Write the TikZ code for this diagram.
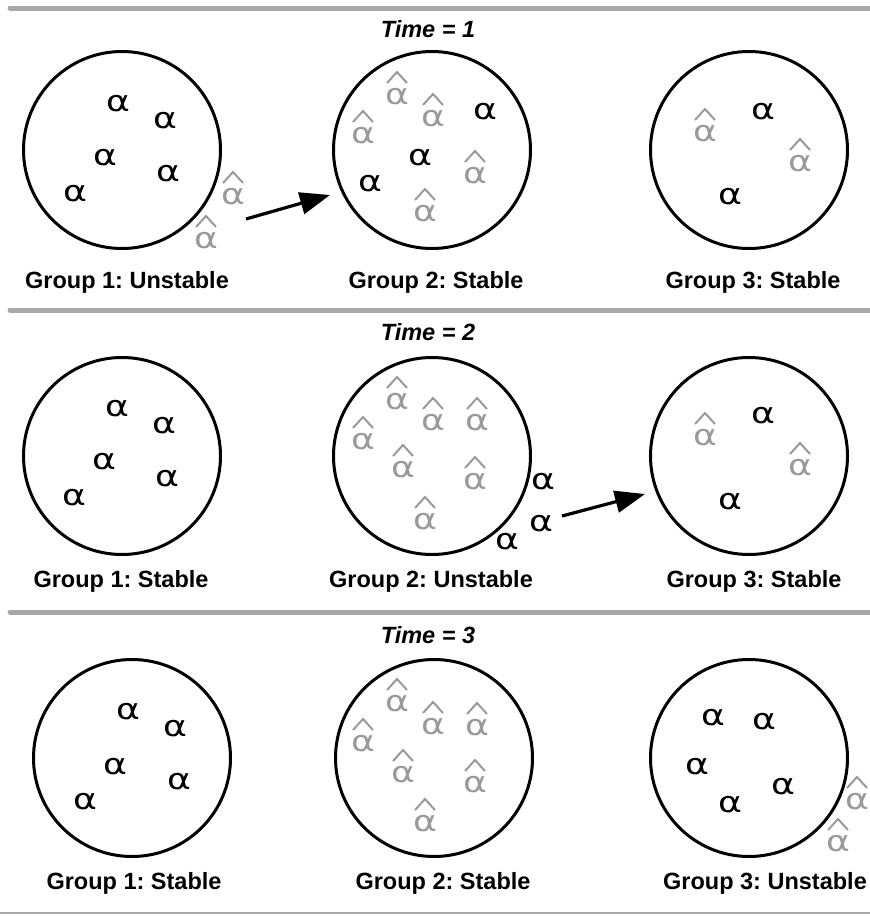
\documentclass[tikz,border=0pt]{standalone}
\usepackage{fontspec}
\setmainfont{Liberation Sans}
\newfontfamily\alffont{DejaVu Sans}
\usetikzlibrary{arrows.meta,calc}
\definecolor{hatgray}{HTML}{9A9A9A}
\definecolor{rulegray}{HTML}{A8A8A8}
\newcommand{\myalpha}{\scalebox{1.25}[1]{α}}
\frenchspacing
\begin{document}
\begin{tikzpicture}[x=1pt,y=-1pt,
  grp/.style={circle,draw=black,line width=3pt,minimum size=197pt,inner sep=0pt},
  alf/.style={inner sep=0pt,font=\alffont\fontsize{29}{29}\selectfont},
  galf/.style={alf,text=hatgray},
  hatline/.style={draw=hatgray,line width=2pt},
  lbl/.style={anchor=base,inner sep=0pt,font=\fontsize{23.5}{27}\selectfont\bfseries},
  tlbl/.style={anchor=base,inner sep=0pt,font=\fontsize{23.5}{27}\selectfont\bfseries\itshape},
  rulestyle/.style={draw=rulegray,line width=5pt,line cap=round},
  mover/.style={line width=3.2pt,-{Triangle[length=30pt,width=22pt]}},
  hatalpha/.pic={\node[galf] (-a) at (0,0) {\myalpha}; \draw[hatline] (-10,-14) -- (0,-25) -- (10,-14);}
]
\useasboundingbox (0,0) rectangle (870,916);

% rules
\coordinate (ra1) at (10,8);   \coordinate (ra2) at (872,8);
\coordinate (rb1) at (10,310); \coordinate (rb2) at (872,310);
\coordinate (rc1) at (10,612); \coordinate (rc2) at (872,612);
\coordinate (rd1) at (0,913);  \coordinate (rd2) at (872,913);
\draw[rulestyle] (ra1) -- (ra2);
\draw[rulestyle] (rb1) -- (rb2);
\draw[rulestyle] (rc1) -- (rc2);
\draw[draw=rulegray,line width=2.5pt] (rd1) -- (rd2);

% ================= Time = 1 =================
\node[tlbl] (t1) at (428,37) {Time = 1};
\node[grp] (c11) at (122,150) {};
\node[grp] (c12) at (432,150) {};
\node[grp] (c13) at (749,150) {};
\node[lbl] (l11) at (127,288) {Group 1: Unstable};
\node[lbl] (l12) at (436,288) {Group 2: Stable};
\node[lbl] (l13) at (753,288) {Group 3: Stable};
% group 1
\node[alf] (a111) at (118,104) {\myalpha};
\node[alf] (a112) at (165,121) {\myalpha};
\node[alf] (a113) at (105,158) {\myalpha};
\node[alf] (a114) at (168,174) {\myalpha};
\node[alf] (a115) at (75,194) {\myalpha};
\pic (h111) at (233,197) {hatalpha};
\pic (h112) at (206,241) {hatalpha};
% group 2
\pic (h121) at (397,97) {hatalpha};
\pic (h122) at (433,119) {hatalpha};
\node[alf] (a121) at (485,112) {\myalpha};
\pic (h123) at (363,136) {hatalpha};
\node[alf] (a122) at (420,158) {\myalpha};
\pic (h124) at (475,176) {hatalpha};
\node[alf] (a123) at (370,184) {\myalpha};
\pic (h125) at (425,214) {hatalpha};
% group 3
\pic (h131) at (705,134) {hatalpha};
\node[alf] (a131) at (763,112) {\myalpha};
\pic (h132) at (800,164) {hatalpha};
\node[alf] (a132) at (730,197) {\myalpha};
% arrow
\coordinate (m1s) at (246,219);
\coordinate (m1e) at (330,195);
\draw[mover] (m1s) -- (m1e);

% ================= Time = 2 =================
\node[tlbl] (t2) at (428,340) {Time = 2};
\node[grp] (c21) at (122,456) {};
\node[grp] (c22) at (432,456) {};
\node[grp] (c23) at (749,456) {};
\node[lbl] (l21) at (121,587) {Group 1: Stable};
\node[lbl] (l22) at (431,587) {Group 2: Unstable};
\node[lbl] (l23) at (754,587) {Group 3: Stable};
% group 1
\node[alf] (a211) at (117,409) {\myalpha};
\node[alf] (a212) at (164,426) {\myalpha};
\node[alf] (a213) at (104,462) {\myalpha};
\node[alf] (a214) at (167,479) {\myalpha};
\node[alf] (a215) at (74,498) {\myalpha};
% group 2
\pic (h221) at (397,402) {hatalpha};
\pic (h222) at (433,423) {hatalpha};
\pic (h223) at (477,423) {hatalpha};
\pic (h224) at (363,442) {hatalpha};
\pic (h225) at (403,470) {hatalpha};
\pic (h226) at (475,482) {hatalpha};
\pic (h227) at (425,522) {hatalpha};
\node[alf] (a221) at (543,482) {\myalpha};
\node[alf] (a222) at (541,524) {\myalpha};
\node[alf] (a223) at (507,542) {\myalpha};
% group 3
\node[alf] (a231) at (763,416) {\myalpha};
\pic (h231) at (705,438) {hatalpha};
\pic (h232) at (800,468) {hatalpha};
\node[alf] (a232) at (730,502) {\myalpha};
% arrow
\coordinate (m2s) at (562,516);
\coordinate (m2e) at (645,494);
\draw[mover] (m2s) -- (m2e);

% ================= Time = 3 =================
\node[tlbl] (t3) at (428,643) {Time = 3};
\node[grp] (c31) at (132,758) {};
\node[grp] (c32) at (434,758) {};
\node[grp] (c33) at (749,758) {};
\node[lbl] (l31) at (134,889) {Group 1: Stable};
\node[lbl] (l32) at (443,889) {Group 2: Stable};
\node[lbl] (l33) at (765,889) {Group 3: Unstable};
% group 1
\node[alf] (a311) at (128,712) {\myalpha};
\node[alf] (a312) at (175,729) {\myalpha};
\node[alf] (a313) at (115,767) {\myalpha};
\node[alf] (a314) at (179,782) {\myalpha};
\node[alf] (a315) at (85,802) {\myalpha};
% group 2
\pic (h321) at (397,704) {hatalpha};
\pic (h322) at (433,727) {hatalpha};
\pic (h323) at (477,728) {hatalpha};
\pic (h324) at (363,744) {hatalpha};
\pic (h325) at (403,775) {hatalpha};
\pic (h326) at (475,785) {hatalpha};
\pic (h327) at (425,824) {hatalpha};
% group 3
\node[alf] (a331) at (713,718) {\myalpha};
\node[alf] (a332) at (764,722) {\myalpha};
\node[alf] (a333) at (697,767) {\myalpha};
\node[alf] (a334) at (783,787) {\myalpha};
\node[alf] (a335) at (730,805) {\myalpha};
\pic (h331) at (857,802) {hatalpha};
\pic (h332) at (838,844) {hatalpha};
\end{tikzpicture}
\end{document}
